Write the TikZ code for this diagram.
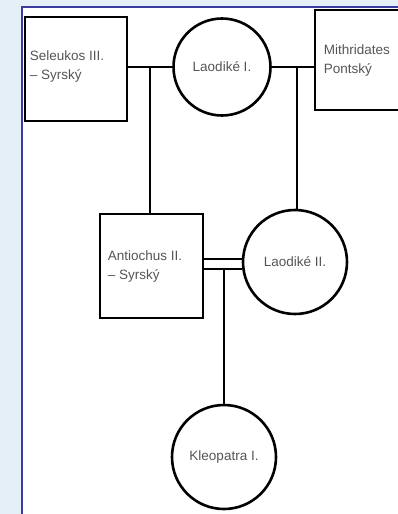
\documentclass[tikz,border=0pt]{standalone}
\usepackage{fontspec}
\setmainfont{Liberation Sans}
\usetikzlibrary{positioning,calc}

\definecolor{frameblue}{RGB}{60,60,160}
\definecolor{paleblue}{RGB}{228,239,248}
\definecolor{txtgray}{RGB}{85,85,85}

\tikzset{
  person/.style={draw,line width=2.8pt,rectangle,inner sep=0pt},
  wife/.style={draw,line width=2.6pt,circle,inner sep=0pt,font=\fontsize{13.5}{19}\selectfont,text=txtgray},
  nametext/.style={anchor=west,align=left,inner sep=0pt,font=\fontsize{13.5}{19}\selectfont,text=txtgray},
  tie/.style={line width=2.8pt},
}

\begin{document}
\begin{tikzpicture}[x=1pt,y=-1pt]
\useasboundingbox (0,0) rectangle (398,514);
\clip (0,0) rectangle (398,514);
% background and frame
\fill[paleblue] (0,0) rectangle (398,514);
\fill[white] (22,7) rectangle (398,514);
\draw[frameblue,line width=1.8pt] (22,514) -- (22,7) -- (398,7);

% people
\node[person,minimum width=102pt,minimum height=104pt] (seleukos) at (76,69) {};
\node[nametext] (seleukost) at ($(seleukos.west)+(6,-2)$) {Seleukos III.\\– Syrský};
\node[wife,minimum size=97pt] (laodike1) at (222,67) {Laodiké I.};
\node[person,minimum width=100pt,minimum height=100pt] (mithridates) at (365,60) {};
\node[nametext] (mithridatest) at ($(mithridates.west)+(10,1)$) {Mithridates\\Pontský};
\node[person,minimum width=103pt,minimum height=104pt] (antiochus) at (151.5,266) {};
\node[nametext] (antiochust) at ($(antiochus.west)+(9,1)$) {Antiochus II.\\– Syrský};
\node[wife,minimum size=104pt] (laodike2) at (295,262) {Laodiké II.};
\node[wife,minimum size=104pt] (kleopatra) at (224,457) {Kleopatra I.};

% marriages and children
\coordinate (j1) at (150,67);
\coordinate (j2) at (297,67);
\draw[tie] (laodike1.west) -- (laodike1.west -| seleukos.east);
\draw[tie] (laodike1.east) -- (laodike1.east -| mithridates.west);
\draw[tie] (j1) -- (j1 |- antiochus.north);
\draw[tie] (j2) -- (j2 |- laodike2.north);
\coordinate (m1) at ($(antiochus.east)+(0,-7)$);
\draw[line width=2.2pt] (m1) -- (m1 -| laodike2.west);
\coordinate (m2) at ($(antiochus.east)+(0,3)$);
\draw[line width=2.2pt] (m2) -- (m2 -| laodike2.west);
\coordinate (j3) at (224,269);
\draw[tie] (j3) -- (kleopatra.north);
\end{tikzpicture}
\end{document}
